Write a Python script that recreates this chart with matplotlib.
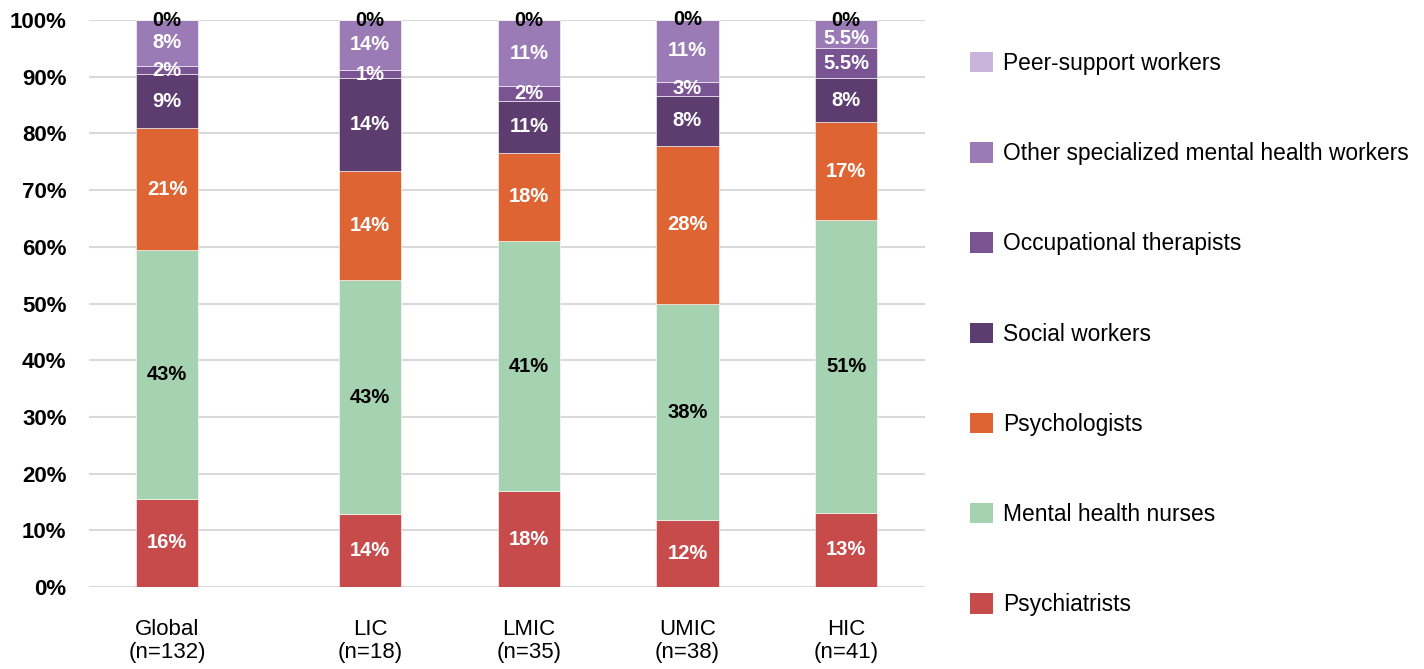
import matplotlib
matplotlib.use("Agg")
import matplotlib.pyplot as plt
from matplotlib.patches import Patch

plt.rcParams['font.family'] = ['Liberation Sans', 'DejaVu Sans']

groups = ["Global\n(n=132)", "LIC\n(n=18)", "LMIC\n(n=35)", "UMIC\n(n=38)", "HIC\n(n=41)"]
x_pos = [0.0, 1.28, 2.28, 3.28, 4.28]

series = ["Psychiatrists", "Mental health nurses", "Psychologists", "Social workers",
          "Occupational therapists", "Other specialized mental health workers",
          "Peer-support workers"]

psychiatrists = [15.6, 12.9, 16.9, 11.8, 13.1]
nurses = [43.8, 41.2, 44.1, 38.1, 51.6]
psychologists = [21.5, 19.3, 15.6, 27.9, 17.3]
social_workers = [9.5, 16.3, 9.1, 8.8, 7.7]
occupational = [1.5, 1.5, 2.6, 2.5, 5.3]
other_specialized = [8.1, 8.8, 11.7, 10.9, 5.0]
peer_support = [0.0, 0.0, 0.0, 0.0, 0.0]

lab_psychiatrists = ["16%", "14%", "18%", "12%", "13%"]
lab_nurses = ["43%", "43%", "41%", "38%", "51%"]
lab_psychologists = ["21%", "14%", "18%", "28%", "17%"]
lab_social = ["9%", "14%", "11%", "8%", "8%"]
lab_occupational = ["2%", "1%", "2%", "3%", "5.5%"]
lab_other = ["8%", "14%", "11%", "11%", "5.5%"]
lab_peer = ["0%", "0%", "0%", "0%", "0%"]

values = [psychiatrists, nurses, psychologists, social_workers, occupational,
          other_specialized, peer_support]
labels = [lab_psychiatrists, lab_nurses, lab_psychologists, lab_social,
          lab_occupational, lab_other, lab_peer]
colors = ["#C74B4A", "#A5D3B1", "#DE6433", "#5D3C6F", "#7A5492", "#9A7BB5", "#C9B5DC"]
text_colors = ["white", "black", "white", "white", "white", "white", "black"]

fig = plt.figure(figsize=(14.24, 6.69), dpi=100)
ax = fig.add_axes([88.7 / 1424, 82 / 669, (925 - 88.7) / 1424, 567 / 669])

bottoms = [0.0] * len(groups)
bar_w = 0.394
for vals, labs, col, tcol, name in zip(values, labels, colors, text_colors, series):
    ax.bar(x_pos, vals, bottom=bottoms, width=bar_w, color=col, edgecolor="white",
           linewidth=0.4, label=name, zorder=3)
    for xi, b, v, lab in zip(x_pos, bottoms, vals, labs):
        # push a label in a thin segment just under the top "0%" label slightly down
        dy = -3 if (v > 0 and b + v >= 99.9 and v < 6) else 0
        ax.annotate(lab, (xi, b + v / 2), xytext=(0, dy), textcoords="offset points",
                    ha="center", va="center", color=tcol,
                    fontsize=14.5, fontweight="bold", zorder=4)
    bottoms = [b + v for b, v in zip(bottoms, vals)]

ax.set_ylim(0, 100)
ax.set_xlim(-0.495, 4.778)
ax.set_yticks(range(0, 101, 10))
ax.set_yticklabels([f"{v}%" for v in range(0, 101, 10)], fontsize=16, fontweight="bold")
ax.set_xticks(x_pos)
ax.set_xticklabels(groups, fontsize=16, linespacing=1.12)
ax.tick_params(axis="y", length=0, pad=16)
ax.tick_params(axis="x", length=0, pad=23)
ax.yaxis.grid(True, color="#D9D9D9", linewidth=1.5, zorder=0)
ax.set_axisbelow(True)
for s in ax.spines.values():
    s.set_visible(False)

handles = [Patch(facecolor=c, edgecolor="none") for c in colors][::-1]
fig.legend(handles, series[::-1], loc="upper left", bbox_to_anchor=(970 / 1424, 1 - 52 / 669),
           frameon=False, fontsize=16.4, handlelength=1.0, handleheight=1.0,
           handletextpad=0.45, labelspacing=2.95, borderaxespad=0, borderpad=0)

fig.savefig("out.png", dpi=100)
